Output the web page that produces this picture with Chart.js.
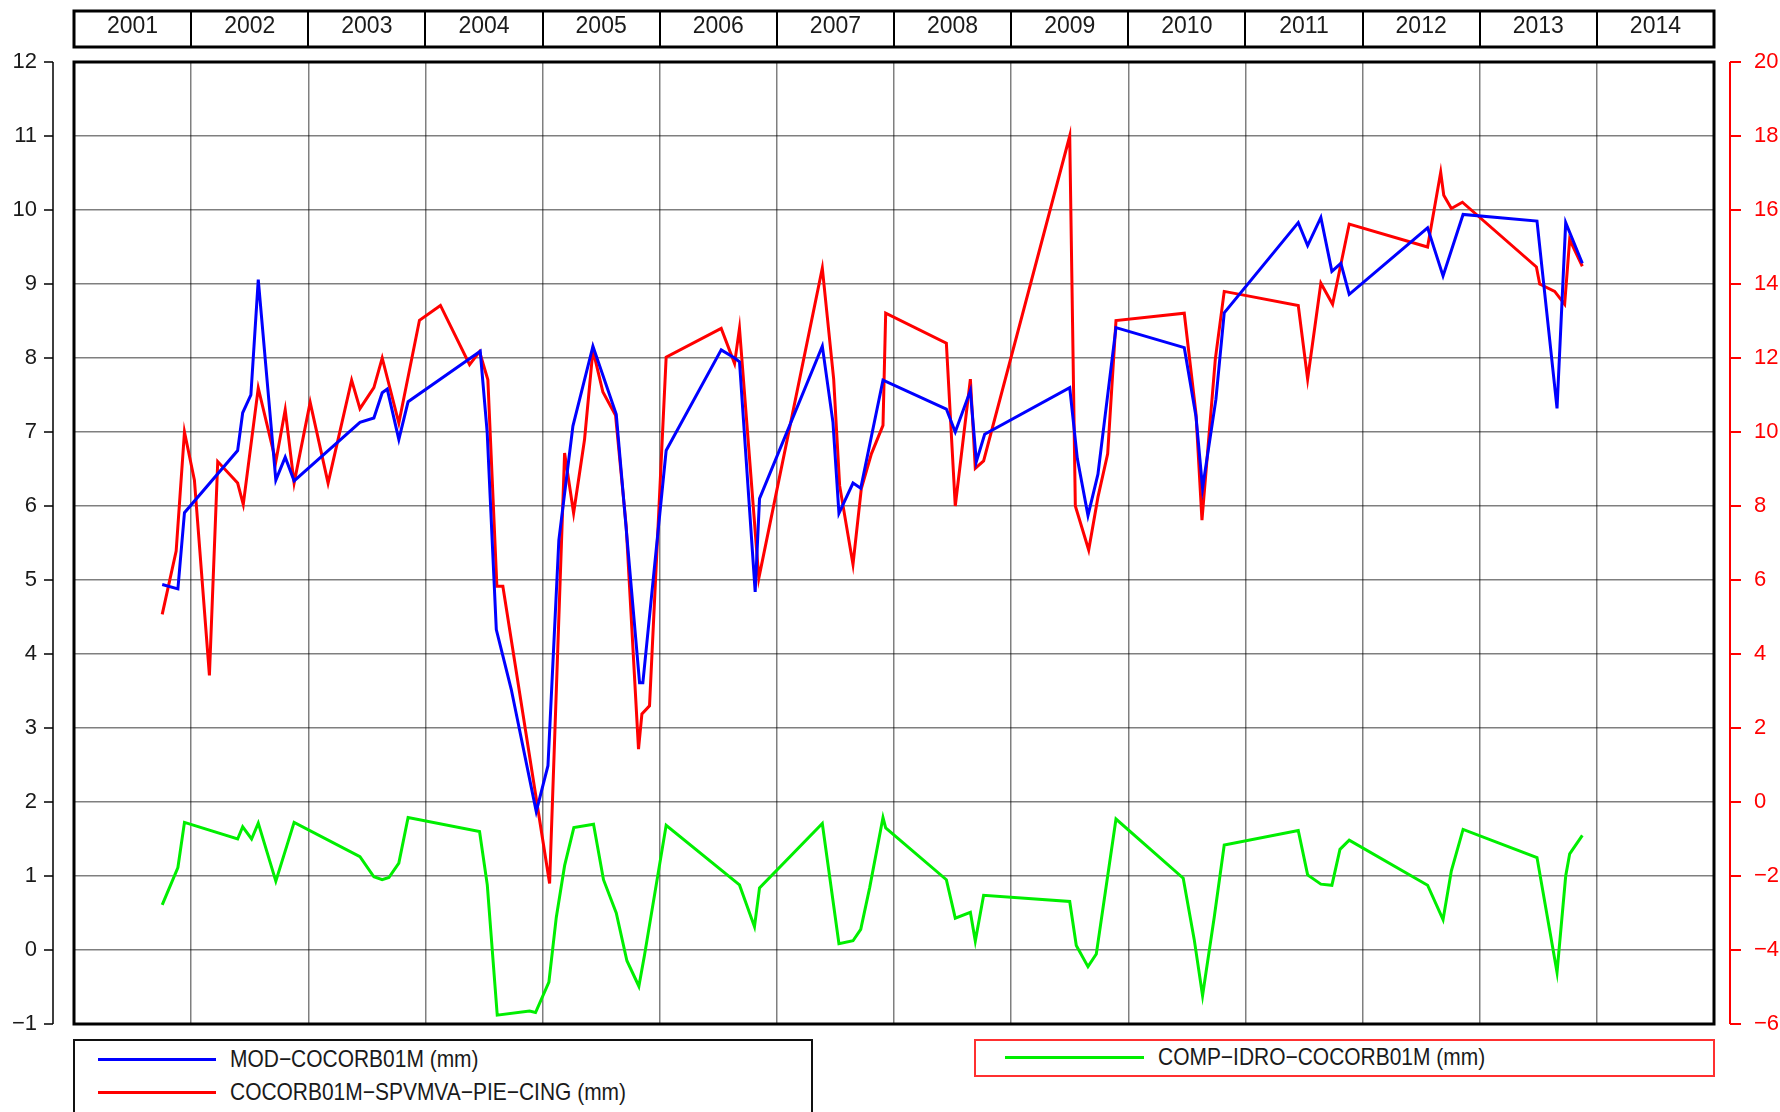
<!DOCTYPE html>
<html>
<head>
<meta charset="utf-8">
<title>COCORB01M</title>
<script src="https://cdn.jsdelivr.net/npm/chart.js@4.4.1/dist/chart.umd.min.js"></script>
<style>
  html, body { margin: 0; padding: 0; background: #fff; }
  #wrap { position: relative; width: 1780px; height: 1112px; overflow: hidden; background: #fff; }
  #chart { position: absolute; left: 0; top: 0; }
  .legend { position: absolute; box-sizing: border-box; background: #fff;
            font-family: 'Liberation Sans Narrow', 'Liberation Sans', Arial, sans-serif;
            font-size: 24px; color: #1a1a1a; }
  .swatch { position: absolute; height: 3px; }
  .label { position: absolute; white-space: nowrap; line-height: 1;
           transform-origin: 0 50%; transform: translateY(-50%) scaleX(0.873); }
</style>
</head>
<body>
<div id="wrap">
  <canvas id="chart" width="1780" height="1112"></canvas>
  <div id="legendA" class="legend" style="left:73px; top:1039px; width:740px; height:82px; border:2px solid #111;"></div>
  <div id="legendB" class="legend" style="left:974px; top:1039px; width:741px; height:38px; border:2px solid #ff3030;"></div>
</div>
<script>
// Year columns shown in the header band
const years = [2001, 2002, 2003, 2004, 2005, 2006, 2007, 2008, 2009, 2010, 2011, 2012, 2013, 2014];

// Tick values of the two vertical axes
const leftTicks = [-1, 0, 1, 2, 3, 4, 5, 6, 7, 8, 9, 10, 11, 12];
const rightTicks = [-6, -4, -2, 0, 2, 4, 6, 8, 10, 12, 14, 16, 18, 20];

const seriesNames = ['MOD\u2212COCORB01M (mm)', 'COCORB01M\u2212SPVMVA\u2212PIE\u2212CING (mm)', 'COMP\u2212IDRO\u2212COCORB01M (mm)'];
const seriesColors = ['#0000ff', '#ff0000', '#00ee00'];

// MOD-COCORB01M (left axis, mm)
const modT = [2001.753, 2001.887, 2001.943, 2002.397, 2002.440, 2002.510, 2002.573, 2002.723, 2002.803, 2002.879,
  2003.441, 2003.560, 2003.631, 2003.674, 2003.773, 2003.852, 2004.468, 2004.527, 2004.605, 2004.733,
  2004.946, 2005.046, 2005.139, 2005.259, 2005.430, 2005.629, 2005.828, 2005.856, 2006.055, 2006.525,
  2006.639, 2006.681, 2006.815, 2006.852, 2007.388, 2007.479, 2007.530, 2007.650, 2007.716, 2007.906,
  2008.447, 2008.523, 2008.652, 2008.703, 2008.774, 2009.500, 2009.565, 2009.656, 2009.741, 2009.895,
  2010.478, 2010.578, 2010.634, 2010.748, 2010.819, 2011.451, 2011.531, 2011.644, 2011.738, 2011.815,
  2011.886, 2012.555, 2012.687, 2012.858, 2013.489, 2013.660, 2013.734, 2013.876];
const modV = [4.94, 4.88, 5.91, 6.75, 7.26, 7.50, 9.06, 6.35, 6.66, 6.34,
  7.13, 7.19, 7.53, 7.58, 6.90, 7.41, 8.09, 7.00, 4.33, 3.52,
  1.87, 2.49, 5.54, 7.08, 8.16, 7.24, 3.61, 3.61, 6.75, 8.11,
  8.00, 7.95, 4.84, 6.10, 8.16, 7.13, 5.90, 6.31, 6.24, 7.70,
  7.31, 7.00, 7.56, 6.60, 6.97, 7.60, 6.64, 5.87, 6.43, 8.41,
  8.14, 7.21, 6.24, 7.44, 8.61, 9.83, 9.52, 9.90, 9.17, 9.28,
  8.86, 9.76, 9.11, 9.94, 9.85, 7.32, 9.83, 9.28];

// COCORB01M-SPVMVA-PIE-CING (right axis, mm)
const spvT = [2001.753, 2001.872, 2001.943, 2002.028, 2002.156, 2002.227, 2002.397, 2002.445, 2002.573, 2002.723,
  2002.803, 2002.879, 2003.016, 2003.169, 2003.370, 2003.441, 2003.560, 2003.631, 2003.773, 2003.949,
  2004.128, 2004.377, 2004.462, 2004.533, 2004.610, 2004.661, 2005.060, 2005.188, 2005.265, 2005.358,
  2005.430, 2005.515, 2005.623, 2005.714, 2005.819, 2005.848, 2005.913, 2006.055, 2006.525, 2006.639,
  2006.681, 2006.846, 2007.388, 2007.485, 2007.536, 2007.650, 2007.721, 2007.807, 2007.906, 2007.929,
  2008.447, 2008.523, 2008.652, 2008.694, 2008.765, 2009.500, 2009.548, 2009.662, 2009.741, 2009.824,
  2009.895, 2010.478, 2010.578, 2010.629, 2010.743, 2010.819, 2011.451, 2011.531, 2011.644, 2011.744,
  2011.886, 2012.555, 2012.667, 2012.693, 2012.758, 2012.852, 2013.484, 2013.512, 2013.640, 2013.725,
  2013.768, 2013.876];
const spvV = [5.07, 6.78, 10.0, 8.70, 3.42, 9.20, 8.62, 8.04, 11.19, 9.20,
  10.6, 8.62, 10.8, 8.62, 11.4, 10.63, 11.2, 12.0, 10.24, 13.02,
  13.42, 11.82, 12.17, 11.41, 5.83, 5.83, -2.2, 9.43, 7.81, 9.79,
  12.21, 11.08, 10.45, 7.45, 1.43, 2.38, 2.60, 12.02, 12.8, 11.85,
  12.8, 6.05, 14.43, 11.43, 8.55, 6.42, 8.47, 9.41, 10.18, 13.21,
  12.4, 8.00, 11.43, 9.02, 9.22, 18.0, 8.00, 6.81, 8.24, 9.41,
  13.01, 13.21, 10.49, 7.62, 11.97, 13.8, 13.42, 11.43, 14.02, 13.45,
  15.62, 15.0, 17.02, 16.4, 16.04, 16.21, 14.46, 14.0, 13.8, 13.45,
  15.2, 14.48];

// COMP-IDRO-COCORB01M (right axis, mm)
const idroT = [2001.753, 2001.887, 2001.943, 2002.397, 2002.440, 2002.516, 2002.573, 2002.723, 2002.879, 2003.441,
  2003.560, 2003.631, 2003.688, 2003.773, 2003.852, 2004.462, 2004.528, 2004.613, 2004.889, 2004.940,
  2005.054, 2005.117, 2005.188, 2005.267, 2005.435, 2005.520, 2005.629, 2005.720, 2005.822, 2005.870,
  2006.055, 2006.681, 2006.809, 2006.852, 2007.388, 2007.530, 2007.650, 2007.716, 2007.792, 2007.906,
  2007.929, 2008.447, 2008.523, 2008.652, 2008.694, 2008.765, 2009.500, 2009.556, 2009.656, 2009.727,
  2009.895, 2010.469, 2010.563, 2010.634, 2010.734, 2010.819, 2011.451, 2011.531, 2011.644, 2011.738,
  2011.807, 2011.886, 2012.555, 2012.687, 2012.758, 2012.858, 2013.489, 2013.660, 2013.734, 2013.768,
  2013.876];
const idroV = [-2.78, -1.77, -0.55, -1.00, -0.67, -1.00, -0.57, -2.14, -0.55, -1.48,
  -2.02, -2.10, -2.04, -1.65, -0.42, -0.80, -2.24, -5.76, -5.65, -5.69,
  -4.87, -3.12, -1.72, -0.69, -0.60, -2.10, -3.00, -4.29, -4.98, -4.14,
  -0.63, -2.24, -3.37, -2.32, -0.58, -3.83, -3.75, -3.44, -2.32, -0.42,
  -0.70, -2.10, -3.14, -2.98, -3.76, -2.52, -2.69, -3.88, -4.45, -4.11,
  -0.46, -2.06, -3.72, -5.23, -3.11, -1.16, -0.77, -1.97, -2.22, -2.25,
  -1.28, -1.03, -2.25, -3.18, -1.86, -0.74, -1.50, -4.60, -2.00, -1.40,
  -0.90];

const FONT = "'Liberation Sans', Arial, Helvetica, sans-serif";
const toPoints = (t, v) => t.map((x, i) => ({ x: x, y: v[i] }));
const minusSign = v => String(v).replace('-', '\u2212');

// Frame, offset axis lines and the year band above the plot
const decorations = {
  id: 'decorations',
  afterDraw(chart) {
    const { ctx, chartArea: a, scales } = chart;
    const xS = scales.x, yS = scales.y, y2S = scales.y2;
    ctx.save();

    // plot frame
    ctx.strokeStyle = '#000';
    ctx.lineWidth = 3;
    ctx.strokeRect(a.left, a.top, a.right - a.left, a.bottom - a.top);

    // left axis, detached from the frame
    const lx = a.left - 21;
    ctx.lineWidth = 1.5;
    ctx.beginPath();
    ctx.moveTo(lx, yS.getPixelForValue(leftTicks[leftTicks.length - 1]));
    ctx.lineTo(lx, yS.getPixelForValue(leftTicks[0]));
    leftTicks.forEach(v => {
      const py = yS.getPixelForValue(v);
      ctx.moveTo(lx - 9, py);
      ctx.lineTo(lx, py);
    });
    ctx.stroke();

    // right axis in red
    const rx = a.right + 16;
    ctx.strokeStyle = '#ff0000';
    ctx.lineWidth = 2;
    ctx.beginPath();
    ctx.moveTo(rx, y2S.getPixelForValue(rightTicks[rightTicks.length - 1]));
    ctx.lineTo(rx, y2S.getPixelForValue(rightTicks[0]));
    rightTicks.forEach(v => {
      const py = y2S.getPixelForValue(v);
      ctx.moveTo(rx, py);
      ctx.lineTo(rx + 11, py);
    });
    ctx.stroke();

    // year band
    const bandTop = 11, bandBottom = 47;
    ctx.strokeStyle = '#000';
    ctx.lineWidth = 2;
    ctx.beginPath();
    years.forEach((yr, i) => {
      if (i === 0) return;
      const px = Math.round(xS.getPixelForValue(yr));
      ctx.moveTo(px, bandTop);
      ctx.lineTo(px, bandBottom);
    });
    ctx.stroke();
    ctx.lineWidth = 3;
    ctx.strokeRect(a.left, bandTop, a.right - a.left, bandBottom - bandTop);

    ctx.fillStyle = '#1a1a1a';
    ctx.font = '23px ' + FONT;
    ctx.textAlign = 'center';
    ctx.textBaseline = 'middle';
    years.forEach(yr => {
      ctx.fillText(String(yr), xS.getPixelForValue(yr + 0.5), (bandTop + bandBottom) / 2 - 2);
    });
    ctx.restore();
  }
};

const chart = new Chart(document.getElementById('chart'), {
  type: 'line',
  data: {
    datasets: [
      { label: seriesNames[0], data: toPoints(modT, modV), yAxisID: 'y', borderColor: seriesColors[0] },
      { label: seriesNames[1], data: toPoints(spvT, spvV), yAxisID: 'y2', borderColor: seriesColors[1] },
      { label: seriesNames[2], data: toPoints(idroT, idroV), yAxisID: 'y2', borderColor: seriesColors[2] }
    ]
  },
  options: {
    responsive: false,
    animation: false,
    devicePixelRatio: 1,
    layout: { padding: { top: 62, left: 0, right: 0, bottom: 0 } },
    plugins: { legend: { display: false }, tooltip: { enabled: false } },
    elements: {
      point: { radius: 0 },
      line: { tension: 0, borderWidth: 3, fill: false }
    },
    scales: {
      x: {
        type: 'linear', min: years[0], max: years[years.length - 1] + 1,
        ticks: { display: false, stepSize: 1 },
        grid: { color: 'rgba(0,0,0,0.5)', lineWidth: 1.5, drawTicks: false },
        border: { display: false },
        afterFit(s) { s.height = 88; }
      },
      y: {
        position: 'left', min: leftTicks[0], max: leftTicks[leftTicks.length - 1],
        ticks: { stepSize: 1, padding: 37, color: '#1a1a1a', font: { family: FONT, size: 22 }, callback: minusSign },
        grid: { color: 'rgba(0,0,0,0.5)', lineWidth: 1.5, drawTicks: false },
        border: { display: false },
        afterFit(s) { s.width = 74; }
      },
      y2: {
        position: 'right', min: rightTicks[0], max: rightTicks[rightTicks.length - 1],
        ticks: { stepSize: 2, padding: 32, color: '#ff0000', font: { family: FONT, size: 22 }, callback: minusSign },
        grid: { display: false, drawOnChartArea: false },
        border: { display: false },
        afterFit(s) { s.width = 66; }
      }
    }
  },
  plugins: [decorations]
});

// Legend boxes built from the dataset labels and colours
function addEntry(box, idx, y) {
  const left = box === 'legendA' ? 23 : 29;
  const el = document.getElementById(box);
  const sw = document.createElement('div');
  sw.className = 'swatch';
  sw.style.cssText = 'left:' + left + 'px; width:' + (box === 'legendA' ? 118 : 139) + 'px; top:' + (y - 1.5) + 'px; background:' + seriesColors[idx] + ';';
  const lb = document.createElement('div');
  lb.className = 'label';
  lb.style.cssText = 'left:' + (left + (box === 'legendA' ? 132 : 153)) + 'px; top:' + y + 'px;';
  lb.textContent = seriesNames[idx];
  el.appendChild(sw);
  el.appendChild(lb);
}
addEntry('legendA', 0, 18);
addEntry('legendA', 1, 51);
addEntry('legendB', 2, 16);
</script>
</body>
</html>
